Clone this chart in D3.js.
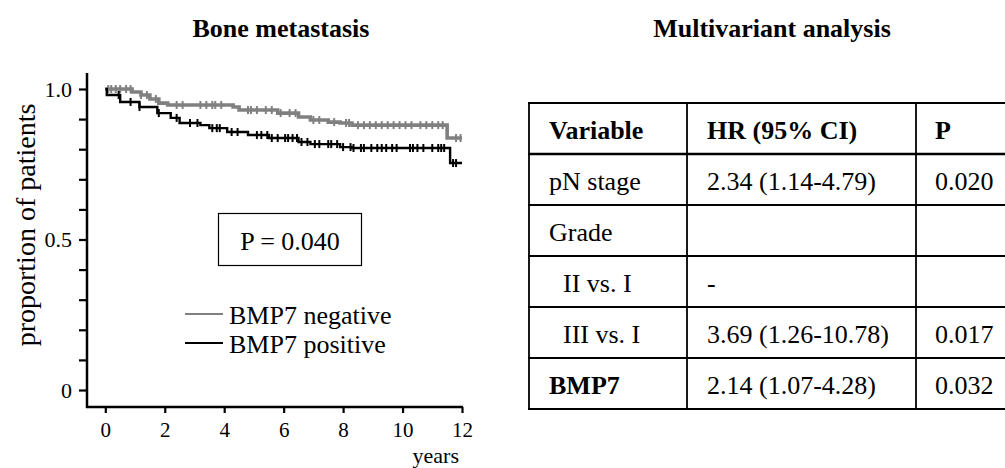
<!DOCTYPE html>
<html>
<head>
<meta charset="utf-8">
<script src="https://cdn.jsdelivr.net/npm/d3@7"></script>
<style>
  body { margin: 0; background: #fff; }
  svg text { font-family: "Liberation Serif", "Times New Roman", serif; fill: #000; }
</style>
</head>
<body>
<div id="chart"></div>
<script>
// kaplan-meier steps, BMP7 negative (grey)
const negTimes = [0, 0.9, 1.2, 1.5, 1.8, 2.1, 4.3, 4.5, 5.8, 6.5, 6.9, 7.5, 7.9, 8.3, 11.5];
const negSurv  = [1.0, 0.990, 0.980, 0.967, 0.953, 0.947, 0.940, 0.930, 0.920, 0.907, 0.897, 0.890, 0.887, 0.880, 0.837];
const negCensor = [0.1, 0.2, 0.35, 0.5, 0.7, 0.85, 1.2, 1.4, 1.7, 2.4, 2.6, 3.2, 3.4, 3.6, 3.7, 3.9,
    4.8, 4.9, 5.1, 5.4, 5.6, 5.9, 6.2, 6.4, 7.0, 7.2, 7.7, 8.1, 8.2,
    8.5, 8.7, 8.9, 9.1, 9.3, 9.5, 9.7, 9.9, 10.1, 10.3, 10.6, 10.8, 11.0, 11.2, 11.35, 11.8, 11.95];

// BMP7 positive (black)
const posTimes = [0, 0.05, 0.5, 1.15, 1.75, 2.2, 2.5, 3.2, 3.5, 4.1, 4.8, 5.5, 6.5, 6.9, 7.9, 8.3, 11.6];
const posSurv  = [1.0, 0.980, 0.957, 0.940, 0.920, 0.904, 0.887, 0.880, 0.870, 0.857, 0.847, 0.837, 0.824, 0.817, 0.807, 0.804, 0.754];
const posCensor = [0.45, 0.85, 1.15, 1.8, 2.4, 2.85, 3.1, 3.6, 3.75, 3.85,
    4.25, 4.45, 5.1, 5.25, 5.45, 5.6, 5.8, 6.05, 6.15, 6.3, 6.45, 6.6, 6.8, 7.05, 7.2, 7.5, 7.6, 7.8, 8.0, 8.25,
    8.35, 8.6, 8.7, 8.95, 9.15, 9.3, 9.45, 9.65, 9.8, 10.25, 10.35, 10.5, 10.7, 11.0, 11.2, 11.3, 11.4, 11.7, 11.8];
const endTime = 12.0;

const xTicks = [0, 2, 4, 6, 8, 10, 12];
const yTicks = [0, 0.1, 0.2, 0.3, 0.4, 0.5, 0.6, 0.7, 0.8, 0.9, 1.0];
const yLabels = {0: "0", 0.5: "0.5", 1: "1.0"};
const legendNames = ["BMP7 negative", "BMP7 positive"];
const pText = "P = 0.040";

// table
const tableHeader = ["Variable", "HR (95% CI)", "P"];
const tableVar = ["pN stage", "Grade", "II vs. I", "III vs. I", "BMP7"];
const tableHR  = ["2.34 (1.14-4.79)", "", "-", "3.69 (1.26-10.78)", "2.14 (1.07-4.28)"];
const tableP   = ["0.020", "", "", "0.017", "0.032"];

const svg = d3.select("#chart").append("svg")
    .attr("width", 1005)
    .attr("height", 468);

const grey = "#808080";
const fs = 26;

// scales
let x = d3.scaleLinear().domain([0, 12]).range([105.3, 462]);
let y = d3.scaleLinear().domain([0, 1]).range([390, 89]);

// titles
svg.append("text").attr("x", 281).attr("y", 37)
    .attr("text-anchor", "middle").attr("font-weight", "bold")
    .attr("font-size", fs).text("Bone metastasis");
svg.append("text").attr("x", 772).attr("y", 37)
    .attr("text-anchor", "middle").attr("font-weight", "bold")
    .attr("font-size", fs).text("Multivariant analysis");

// axes
let axisG = svg.append("g");
let leftAxis = d3.axisLeft(y).tickValues(yTicks).tickSize(8).tickPadding(7)
    .tickFormat(d => yLabels[Math.round(d * 10) / 10] || "");
axisG.append("g").attr("transform", "translate(87,0)").call(leftAxis)
    .call(g => g.select(".domain").remove())
    .call(g => g.selectAll("line").attr("stroke-width", 2.2))
    .call(g => g.selectAll("text").attr("font-size", 22));

let bottomAxis = d3.axisBottom(x).tickValues(xTicks).tickSize(6).tickPadding(9);
axisG.append("g").attr("transform", "translate(0,407)").call(bottomAxis)
    .call(g => g.select(".domain").remove())
    .call(g => g.selectAll("line").attr("stroke-width", 2.2))
    .call(g => g.selectAll("text").attr("font-size", 21));

// axis lines
axisG.append("line").attr("x1", 87).attr("x2", 87)
    .attr("y1", y(1.053)).attr("y2", 408)
    .attr("stroke", "#000").attr("stroke-width", 2.5);
axisG.append("line").attr("x1", 86).attr("x2", x(12) + 1)
    .attr("y1", 407).attr("y2", 407)
    .attr("stroke", "#000").attr("stroke-width", 2.5);

svg.append("text").attr("x", 459).attr("y", 463)
    .attr("text-anchor", "end").attr("font-size", 22).text("years");

svg.append("text")
    .attr("transform", "translate(35,225) rotate(-90)")
    .attr("text-anchor", "middle").attr("font-size", 28)
    .text("proportion of patients");

// curves
function kmData(times, surv) {
    let pts = times.map((t, i) => [t, surv[i]]);
    pts.push([endTime, surv[surv.length - 1]]);
    return pts;
}
function survAt(times, surv, t) {
    let v = surv[0];
    times.forEach((tt, i) => { if (tt <= t) v = surv[i]; });
    return v;
}
let line = d3.line().x(d => x(d[0])).y(d => y(d[1])).curve(d3.curveStepAfter);

let series = [
    {times: negTimes, surv: negSurv, cens: negCensor, color: grey, w: 3.6},
    {times: posTimes, surv: posSurv, cens: posCensor, color: "#000", w: 2.4}
];
series.forEach(s => {
    svg.append("path").datum(kmData(s.times, s.surv))
        .attr("d", line).attr("fill", "none")
        .attr("stroke", s.color).attr("stroke-width", s.w);
    svg.append("g").selectAll("line").data(s.cens).enter().append("line")
        .attr("x1", d => x(d)).attr("x2", d => x(d))
        .attr("y1", d => y(survAt(s.times, s.surv, d)) - 4)
        .attr("y2", d => y(survAt(s.times, s.surv, d)) + 4)
        .attr("stroke", s.color).attr("stroke-width", 2);
});

// p value box
svg.append("rect").attr("x", 218.5).attr("y", 213.5).attr("width", 143).attr("height", 52)
    .attr("fill", "none").attr("stroke", "#000").attr("stroke-width", 1.2);
svg.append("text").attr("x", 290).attr("y", 250).attr("text-anchor", "middle")
    .attr("font-size", fs).text(pText);

// legend
legendNames.forEach((name, i) => {
    let ly = 314 + i * 29;
    svg.append("line").attr("x1", 185).attr("x2", 223).attr("y1", ly).attr("y2", ly)
        .attr("stroke", i === 0 ? grey : "#000").attr("stroke-width", 2.2);
    svg.append("text").attr("x", 229).attr("y", ly + 10)
        .attr("font-size", fs).text(name);
});

// table
let colX = [529, 687, 916, 1010];
let rowTop = 103, rowH = 51;
let nRows = tableVar.length + 1;
let tableG = svg.append("g");
d3.range(nRows + 1).forEach(i => {
    tableG.append("line").attr("x1", colX[0] - 1).attr("x2", colX[3])
        .attr("y1", rowTop + i * rowH).attr("y2", rowTop + i * rowH)
        .attr("stroke", "#000").attr("stroke-width", i === 1 ? 2.6 : 1.8);
});
colX.forEach(cx => {
    tableG.append("line").attr("x1", cx).attr("x2", cx)
        .attr("y1", rowTop).attr("y2", rowTop + nRows * rowH)
        .attr("stroke", "#000").attr("stroke-width", 1.8);
});
let textX = [549, 707, 935];
tableHeader.forEach((h, j) => {
    tableG.append("text").attr("x", textX[j]).attr("y", rowTop + 36)
        .attr("font-size", fs).attr("font-weight", "bold").text(h);
});
tableVar.forEach((v, i) => {
    let ty = rowTop + (i + 1) * rowH + 36;
    let indent = v.indexOf("vs.") >= 0 ? 14 : 0;
    tableG.append("text").attr("x", textX[0] + indent).attr("y", ty)
        .attr("font-size", fs).attr("font-weight", v === "BMP7" ? "bold" : null).text(v);
    tableG.append("text").attr("x", textX[1]).attr("y", ty).attr("font-size", fs).text(tableHR[i]);
    tableG.append("text").attr("x", textX[2]).attr("y", ty).attr("font-size", fs).text(tableP[i]);
});
</script>
</body>
</html>
